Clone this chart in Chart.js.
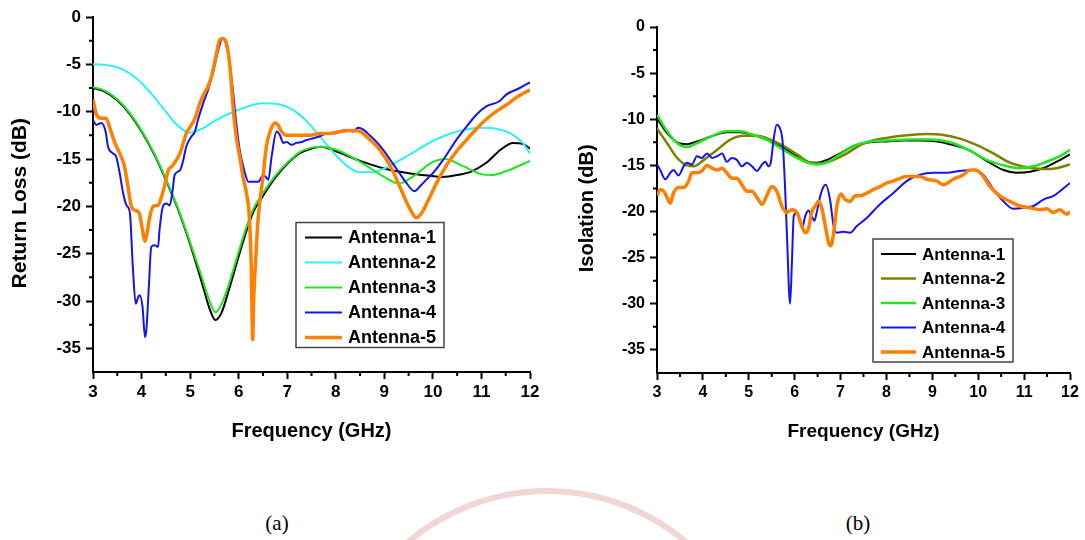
<!DOCTYPE html>
<html lang="en">
<head>
  <meta charset="UTF-8">
  <title>Return Loss and Isolation</title>
  <style>
    body {
      margin: 0;
      width: 1085px;
      height: 540px;
      position: relative;
      overflow: hidden;
      background: #fff;
    }
    .panel {
      position: absolute;
      top: 0;
    }
    #left { left: 0; }
    #right { left: 545px; }
    .caption {
      position: absolute;
      top: 511px;
      width: 80px;
      text-align: center;
      font-family: "Liberation Serif", "Times New Roman", serif;
      font-size: 21px;
      line-height: 24px;
      color: #000;
    }
    #seal {
      position: absolute;
      left: 329px;
      top: 488px;
      width: 424px;
      height: 424px;
      border: 6px solid #f1d6d6;
      border-radius: 50%;
    }
  </style>
  <script src="https://cdn.jsdelivr.net/npm/chart.js@4.4.1/dist/chart.umd.min.js"></script>
</head>
<body>
  <div id="seal"></div>
  <div class="panel" id="left"><canvas id="rlChart" width="545" height="460"></canvas></div>
  <div class="panel" id="right"><canvas id="isoChart" width="540" height="460"></canvas></div>
  <div class="caption" style="left: 237px">(a)</div>
  <div class="caption" style="left: 818px">(b)</div>
  <script>
    const labels = ["Antenna-1", "Antenna-2", "Antenna-3", "Antenna-4", "Antenna-5"]

    // (a) return loss, GHz / dB
    const rlFreq1 = [3.0, 3.25, 3.5, 3.75, 4.0, 4.25, 4.5, 4.75, 5.0, 5.25, 5.4, 5.52, 5.65, 5.8, 6.0, 6.16, 6.3, 6.5, 6.75, 7.0, 7.25, 7.5, 7.7, 8.0, 8.5, 9.0, 9.5, 10.0, 10.2, 10.5, 10.8, 11.1, 11.4, 11.65, 11.85, 12.0]
    const rlLoss1 = [-7.5, -7.9, -8.8, -10.2, -12.1, -14.4, -17.2, -20.3, -24.0, -28.2, -30.8, -32.0, -31.2, -28.8, -25.3, -22.6, -20.6, -18.9, -17.0, -15.5, -14.4, -13.9, -13.7, -14.2, -15.2, -16.0, -16.5, -16.8, -16.9, -16.7, -16.3, -15.4, -14.0, -13.3, -13.4, -13.9]
    const rlFreq2 = [3.0, 3.3, 3.6, 3.9, 4.2, 4.5, 4.75, 5.0, 5.25, 5.5, 6.0, 6.5, 6.8, 7.0, 7.2, 7.4, 7.7, 8.0, 8.25, 8.5, 8.75, 9.0, 9.5, 10.0, 10.5, 11.0, 11.3, 11.6, 11.85, 12.0]
    const rlLoss2 = [-5.0, -5.1, -5.5, -6.5, -8.1, -10.0, -11.5, -12.2, -11.8, -11.0, -9.8, -9.1, -9.2, -9.5, -10.1, -11.0, -12.8, -14.6, -15.8, -16.4, -16.4, -16.0, -14.6, -13.1, -12.1, -11.7, -11.8, -12.3, -13.3, -14.4]
    const rlFreq3 = [3.0, 3.25, 3.5, 3.75, 4.0, 4.25, 4.5, 4.75, 5.0, 5.25, 5.4, 5.52, 5.65, 5.8, 6.0, 6.16, 6.3, 6.5, 6.75, 7.0, 7.25, 7.5, 7.7, 8.0, 8.5, 9.0, 9.3, 9.6, 10.0, 10.25, 10.6, 11.0, 11.2, 11.5, 12.0]
    const rlLoss3 = [-7.4, -7.8, -8.7, -10.1, -12.0, -14.3, -17.1, -20.2, -23.8, -27.6, -30.0, -31.2, -30.3, -28.2, -24.8, -22.2, -20.3, -18.6, -16.8, -15.4, -14.3, -13.8, -13.7, -14.0, -15.3, -16.9, -17.6, -16.8, -15.3, -15.0, -15.7, -16.6, -16.7, -16.3, -15.2]
    const rlFreq4 = [3.00, 3.07, 3.17, 3.26, 3.31, 3.41, 3.48, 3.55, 3.62, 3.69, 3.76, 3.82, 3.88, 3.93, 3.96, 4.02, 4.07, 4.10, 4.15, 4.20, 4.27, 4.34, 4.37, 4.44, 4.51, 4.58, 4.64, 4.68, 4.79, 4.86, 4.92, 5.03, 5.10, 5.16, 5.27, 5.37, 5.47, 5.58, 5.67, 5.71, 5.78, 5.85, 5.96, 6.02, 6.13, 6.20, 6.30, 6.40, 6.51, 6.56, 6.61, 6.68, 6.78, 6.85, 6.92, 6.99, 7.09, 7.19, 7.30, 7.40, 7.54, 7.67, 7.81, 7.95, 8.09, 8.22, 8.36, 8.46, 8.57, 8.70, 8.84, 9.00, 9.15, 9.30, 9.45, 9.62, 9.75, 9.88, 10.00, 10.21, 10.48, 10.69, 10.90, 11.10, 11.37, 11.51, 11.79, 12.00]
    const rlLoss4 = [-10.9, -11.4, -11.2, -12.1, -13.7, -14.4, -14.8, -16.5, -18.6, -19.9, -20.7, -26.4, -30.3, -29.6, -29.4, -30.6, -33.8, -33.0, -28.5, -24.3, -24.1, -24.3, -22.5, -20.0, -19.7, -19.9, -18.3, -16.7, -16.2, -15.1, -13.7, -12.6, -12.1, -10.9, -9.1, -7.7, -5.9, -3.5, -2.2, -2.4, -3.8, -6.3, -11.6, -14.0, -16.5, -17.4, -17.4, -17.4, -16.7, -16.9, -17.2, -14.7, -12.1, -12.5, -13.3, -13.2, -13.5, -13.3, -13.2, -13.0, -12.8, -12.6, -12.3, -12.3, -12.1, -11.9, -12.1, -11.7, -11.9, -12.5, -13.2, -14.2, -15.3, -16.4, -17.5, -18.4, -17.8, -17.1, -16.5, -15.1, -13.0, -11.6, -10.3, -9.45, -8.9, -8.2, -7.5, -6.9]
    const rlFreq5 = [3.00, 3.07, 3.17, 3.27, 3.34, 3.45, 3.55, 3.65, 3.72, 3.79, 3.86, 3.95, 4.02, 4.07, 4.11, 4.17, 4.24, 4.34, 4.41, 4.48, 4.55, 4.62, 4.68, 4.79, 4.86, 4.92, 4.99, 5.10, 5.20, 5.30, 5.37, 5.44, 5.53, 5.61, 5.68, 5.75, 5.82, 5.89, 5.96, 6.02, 6.09, 6.16, 6.22, 6.26, 6.29, 6.31, 6.35, 6.40, 6.51, 6.57, 6.66, 6.75, 6.81, 6.88, 6.99, 7.12, 7.26, 7.47, 7.67, 7.88, 8.09, 8.29, 8.50, 8.63, 8.90, 9.15, 9.35, 9.50, 9.66, 9.77, 9.91, 10.08, 10.29, 10.50, 10.69, 10.90, 11.10, 11.30, 11.51, 11.75, 12.00]
    const rlLoss5 = [-8.7, -10.3, -10.7, -10.7, -11.6, -13.3, -14.4, -15.8, -17.9, -20.0, -20.4, -20.7, -22.5, -23.7, -22.9, -21.1, -20.0, -19.9, -19.0, -17.7, -16.2, -15.8, -15.4, -14.4, -13.3, -12.3, -11.7, -10.7, -9.1, -8.0, -7.3, -6.3, -4.2, -2.4, -2.3, -2.8, -5.2, -9.8, -13.0, -14.7, -16.9, -18.6, -21.1, -26.4, -34.1, -29.9, -25.7, -21.4, -16.5, -13.7, -11.9, -11.2, -11.4, -12.1, -12.5, -12.5, -12.5, -12.5, -12.3, -12.3, -12.1, -12.0, -12.1, -12.6, -14.0, -16.0, -18.3, -20.0, -21.2, -20.7, -19.3, -17.5, -15.6, -14.1, -13.0, -11.8, -10.8, -10.0, -9.3, -8.4, -7.7]

    // (b) isolation, GHz / dB
    const isoFreq1 = [3.00, 3.22, 3.44, 3.65, 3.87, 4.16, 4.52, 4.81, 5.10, 5.39, 5.69, 5.98, 6.27, 6.48, 6.70, 6.99, 7.28, 7.64, 8.01, 8.37, 8.73, 9.10, 9.46, 9.82, 10.18, 10.55, 10.84, 11.13, 11.42, 11.71, 12.00]
    const isoDb1 = [-9.9, -11.5, -12.5, -12.7, -12.4, -11.9, -11.4, -11.4, -11.7, -12.2, -12.9, -13.8, -14.6, -14.7, -14.4, -13.7, -12.9, -12.5, -12.4, -12.3, -12.3, -12.4, -12.8, -13.4, -14.5, -15.5, -15.8, -15.7, -15.3, -14.6, -13.8]
    const isoFreq2 = [3.00, 3.22, 3.44, 3.65, 3.80, 4.02, 4.31, 4.60, 4.89, 5.18, 5.47, 5.76, 6.05, 6.34, 6.56, 6.85, 7.14, 7.43, 7.79, 8.15, 8.52, 8.88, 9.24, 9.60, 9.97, 10.33, 10.69, 11.06, 11.42, 11.71, 12.00]
    const isoDb2 = [-11.0, -12.6, -14.2, -15.0, -15.1, -14.4, -13.3, -12.2, -11.8, -11.8, -12.2, -12.9, -13.8, -14.7, -14.8, -14.4, -13.7, -12.8, -12.2, -11.9, -11.7, -11.6, -11.7, -12.1, -12.8, -13.7, -14.7, -15.2, -15.4, -15.3, -14.9]
    const isoFreq3 = [3.00, 3.22, 3.44, 3.65, 3.87, 4.16, 4.52, 4.81, 5.10, 5.39, 5.69, 5.98, 6.27, 6.48, 6.70, 6.99, 7.28, 7.64, 8.01, 8.50, 8.88, 9.20, 9.46, 9.82, 10.18, 10.55, 10.91, 11.20, 11.49, 11.78, 12.00]
    const isoDb3 = [-9.5, -11.3, -12.6, -13.0, -12.6, -11.9, -11.3, -11.3, -11.7, -12.2, -13.1, -14.0, -14.7, -14.9, -14.7, -13.8, -12.9, -12.4, -12.3, -12.2, -12.2, -12.3, -12.6, -13.4, -14.4, -15.0, -15.3, -15.1, -14.6, -14.0, -13.3]
    const isoFreq4 = [3.00, 3.07, 3.18, 3.29, 3.36, 3.47, 3.58, 3.65, 3.76, 3.87, 3.98, 4.09, 4.20, 4.31, 4.42, 4.52, 4.63, 4.74, 4.85, 4.96, 5.07, 5.18, 5.29, 5.36, 5.43, 5.48, 5.54, 5.61, 5.66, 5.74, 5.79, 5.83, 5.90, 5.94, 5.98, 6.05, 6.11, 6.16, 6.23, 6.30, 6.37, 6.43, 6.48, 6.56, 6.63, 6.68, 6.77, 6.85, 6.92, 7.06, 7.21, 7.35, 7.57, 7.86, 8.15, 8.44, 8.73, 9.02, 9.31, 9.60, 9.89, 10.11, 10.33, 10.55, 10.76, 10.98, 11.20, 11.42, 11.64, 11.78, 12.00]
    const isoDb4 = [-14.9, -15.5, -16.5, -15.8, -15.5, -16.1, -15.1, -14.7, -14.9, -14.0, -14.2, -13.7, -14.2, -14.0, -13.7, -14.6, -14.2, -14.4, -15.1, -14.7, -15.1, -15.6, -14.9, -14.6, -15.1, -14.7, -12.2, -10.6, -10.8, -12.6, -17.3, -22.3, -30.0, -25.5, -20.5, -20.1, -20.9, -21.8, -20.5, -19.9, -20.5, -21.0, -20.1, -18.3, -17.3, -17.1, -18.7, -21.6, -22.3, -22.2, -22.3, -21.6, -20.7, -19.2, -18.0, -16.7, -16.0, -15.8, -15.8, -15.6, -15.5, -16.0, -17.6, -18.9, -19.7, -19.6, -19.4, -18.7, -18.3, -17.8, -16.9]
    const isoFreq5 = [3.00, 3.07, 3.15, 3.22, 3.29, 3.36, 3.47, 3.58, 3.69, 3.76, 3.87, 3.98, 4.09, 4.20, 4.31, 4.42, 4.52, 4.63, 4.74, 4.85, 4.96, 5.07, 5.18, 5.29, 5.39, 5.50, 5.61, 5.72, 5.83, 5.94, 6.05, 6.13, 6.23, 6.30, 6.37, 6.45, 6.52, 6.59, 6.68, 6.74, 6.79, 6.85, 6.92, 7.01, 7.10, 7.21, 7.32, 7.43, 7.57, 7.72, 7.86, 8.01, 8.15, 8.30, 8.44, 8.59, 8.73, 8.88, 9.10, 9.24, 9.46, 9.68, 9.82, 9.93, 10.08, 10.26, 10.47, 10.69, 10.91, 11.13, 11.35, 11.49, 11.64, 11.78, 11.93, 12.00]
    const isoDb5 = [-18.3, -17.6, -17.8, -18.5, -19.1, -18.0, -17.4, -17.4, -16.7, -15.8, -15.8, -15.6, -15.0, -15.3, -15.5, -15.3, -15.8, -16.4, -16.4, -17.1, -17.8, -17.8, -18.5, -19.2, -18.3, -17.3, -17.8, -19.4, -20.1, -19.8, -20.1, -21.2, -22.3, -21.9, -20.1, -19.4, -18.9, -19.6, -21.9, -23.4, -23.7, -22.3, -19.4, -18.1, -18.7, -18.9, -18.3, -18.3, -18.0, -17.6, -17.3, -16.9, -16.7, -16.4, -16.2, -16.2, -16.2, -16.5, -16.7, -17.1, -16.5, -16.0, -15.5, -15.5, -16.0, -17.3, -18.3, -18.9, -19.4, -19.6, -19.8, -19.7, -20.1, -19.8, -20.3, -20.0]

    const yTickValues = [0, -5, -10, -15, -20, -25, -30, -35]
    const font = '"Liberation Sans", Arial, sans-serif'

    const toPoints = (xs, ys) => xs.map((x, i) => ({ x, y: ys[i] }))

    // small unlabeled ticks half way between the labeled ones
    const minorTicks = {
      id: "minorTicks",
      afterDraw(chart) {
        const { ctx, scales: { x, y } } = chart
        ctx.save()
        ctx.strokeStyle = "#000"
        ctx.lineWidth = 2
        ctx.beginPath()
        for (let v = x.min + 0.5; v < x.max; v += 1) {
          const px = x.getPixelForValue(v)
          ctx.moveTo(px, x.top)
          ctx.lineTo(px, x.top + 4)
        }
        for (let v = -2.5; v > y.min; v -= 5) {
          const py = y.getPixelForValue(v)
          ctx.moveTo(y.right, py)
          ctx.lineTo(y.right - 4, py)
        }
        ctx.stroke()
        ctx.restore()
      }
    }

    // boxed legend sitting inside the plot, like the Origin one
    const boxLegend = {
      id: "boxLegend",
      afterDraw(chart, args, opts) {
        const { ctx, chartArea } = chart
        const x0 = chartArea.left + opts.dx
        const y0 = chartArea.top + opts.dy
        ctx.save()
        ctx.fillStyle = "#fff"
        ctx.fillRect(x0, y0, opts.w, opts.h)
        ctx.strokeStyle = "#444"
        ctx.lineWidth = 1.5
        ctx.strokeRect(x0, y0, opts.w, opts.h)
        ctx.font = "bold " + opts.size + "px " + font
        ctx.textBaseline = "middle"
        chart.data.datasets.forEach((ds, i) => {
          const yy = y0 + opts.first + i * opts.step
          ctx.strokeStyle = ds.borderColor
          ctx.lineWidth = ds.borderWidth
          ctx.beginPath()
          ctx.moveTo(x0 + opts.lineStart, yy)
          ctx.lineTo(x0 + opts.lineEnd, yy)
          ctx.stroke()
          ctx.fillStyle = "#000"
          ctx.fillText(ds.label, x0 + opts.textStart, yy + 1)
        })
        ctx.restore()
      }
    }

    const makeDatasets = (series, colors, widths) => series.map((pts, i) => ({
      label: labels[i],
      data: pts,
      borderColor: colors[i],
      borderWidth: widths[i],
      pointRadius: 0,
      cubicInterpolationMode: "monotone",
      borderJoinStyle: "round",
      order: 5 - i,
    }))

    const makeOptions = (o) => ({
      responsive: false,
      animation: false,
      devicePixelRatio: 1,
      layout: { padding: { top: o.top, right: 15, left: 0, bottom: 0 } },
      plugins: {
        legend: { display: false },
        tooltip: { enabled: false },
        boxLegend: o.legend,
      },
      scales: {
        x: {
          type: "linear",
          min: 3,
          max: 12,
          afterFit: (scale) => { scale.height = o.xHeight },
          border: { display: true, color: "#000", width: 2 },
          grid: { drawOnChartArea: false, drawTicks: true, tickLength: 7, tickColor: "#000", tickWidth: 2 },
          ticks: { stepSize: 1, padding: 3, color: "#000", font: { family: font, size: o.tickSize, weight: "bold" } },
          title: { display: true, text: "Frequency (GHz)", color: "#000", padding: { top: 0, bottom: 17 }, font: { family: font, size: o.titleSize, weight: "bold" } },
        },
        y: {
          type: "linear",
          min: -37.5,
          max: 0,
          afterFit: (scale) => { scale.width = o.yWidth },
          afterBuildTicks: (scale) => { scale.ticks = yTickValues.map((v) => ({ value: v })) },
          border: { display: true, color: "#000", width: 2 },
          grid: { drawOnChartArea: false, drawTicks: true, tickLength: 7, tickColor: "#000", tickWidth: 2 },
          ticks: { padding: 5, color: "#000", font: { family: font, size: o.tickSize, weight: "bold" } },
          title: { display: true, text: o.yTitle, color: "#000", padding: { top: o.yTitlePad, bottom: 0 }, font: { family: font, size: o.titleSize + 1, weight: "bold" } },
        },
      },
    })

    new Chart(document.getElementById("rlChart"), {
      type: "line",
      data: {
        datasets: makeDatasets(
          [toPoints(rlFreq1, rlLoss1), toPoints(rlFreq2, rlLoss2), toPoints(rlFreq3, rlLoss3), toPoints(rlFreq4, rlLoss4), toPoints(rlFreq5, rlLoss5)],
          ["#000000", "#2ef2f2", "#1fe61f", "#1414ee", "#ff8000"],
          [2, 2, 2, 2, 3.5]
        ),
      },
      options: makeOptions({
        top: 17, xHeight: 88, yWidth: 93, tickSize: 17, titleSize: 20,
        yTitle: "Return Loss (dB)   ", yTitlePad: 8,
        legend: { dx: 203, dy: 205.5, w: 148, h: 125, first: 15, step: 25, lineStart: 9, lineEnd: 46, textStart: 52, size: 18 },
      }),
      plugins: [minorTicks, boxLegend],
    })

    new Chart(document.getElementById("isoChart"), {
      type: "line",
      data: {
        datasets: makeDatasets(
          [toPoints(isoFreq1, isoDb1), toPoints(isoFreq2, isoDb2), toPoints(isoFreq3, isoDb3), toPoints(isoFreq4, isoDb4), toPoints(isoFreq5, isoDb5)],
          ["#000000", "#808000", "#1fe61f", "#1414ee", "#ff8000"],
          [2, 2.5, 2.5, 2, 3.5]
        ),
      },
      options: makeOptions({
        top: 27, xHeight: 87, yWidth: 112, tickSize: 16, titleSize: 19,
        yTitle: "Isolation (dB)   ", yTitlePad: 30,
        legend: { dx: 216, dy: 212, w: 140, h: 123, first: 15, step: 24.5, lineStart: 8, lineEnd: 43, textStart: 49, size: 17 },
      }),
      plugins: [minorTicks, boxLegend],
    })
  </script>
</body>
</html>
